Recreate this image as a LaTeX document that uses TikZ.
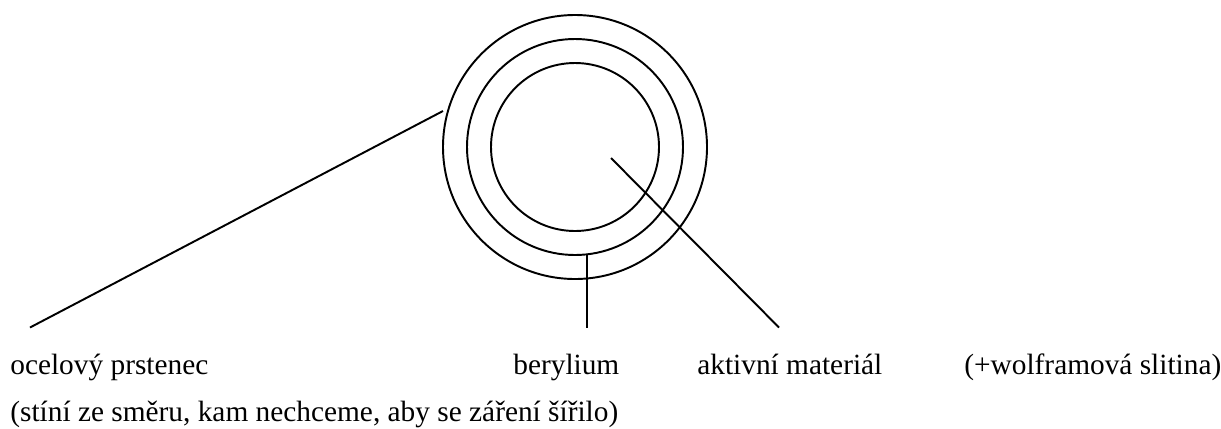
\documentclass[tikz,border=0pt]{standalone}
\usepackage{fontspec}
\setmainfont{Liberation Serif}
\usetikzlibrary{positioning}
\tikzset{
  ring/.style={circle, draw=black, inner sep=0pt, line width=1.1pt},
  label/.style={anchor=base west, inner sep=0pt, font=\fontsize{16.7pt}{20pt}\selectfont},
  line/.style={line width=1.1pt, color=black}
}
\begin{document}
\begin{tikzpicture}
  \useasboundingbox (0,0) rectangle (24.42,8.56);
  % Rings
  \node[ring, minimum size=5.28cm] (outer) at (11.5,5.62) {};
  \node[ring, minimum size=4.32cm] (middle) at (11.5,5.62) {};
  \node[ring, minimum size=3.36cm] (inner) at (11.5,5.62) {};
  % Line ends
  \coordinate (steelin) at (8.86,6.34);
  \coordinate (steelout) at (0.6,2.01);
  \coordinate (berin) at (11.74,3.46);
  \coordinate (berout) at (11.74,2.01);
  \coordinate (activein) at (12.22,5.4);
  \coordinate (activeout) at (15.58,2.01);
  % Leaders
  \draw[line] (steelin) -- (steelout);
  \draw[line] (berin) -- (berout);
  \draw[line] (activein) -- (activeout);
  % Labels
  \node[label] (steel) at (0.2,1.07) {ocelový prstenec};
  \node[label] (beryl) at (10.26,1.07) {berylium};
  \node[label] (active) at (13.94,1.07) {aktivní materiál};
  \node[label] (tungsten) at (19.28,1.07) {(+wolframová slitina)};
  \node[label] (shade) at (0.2,0.14) {(stíní ze směru, kam nechceme, aby se záření šířilo)};
\end{tikzpicture}
\end{document}
